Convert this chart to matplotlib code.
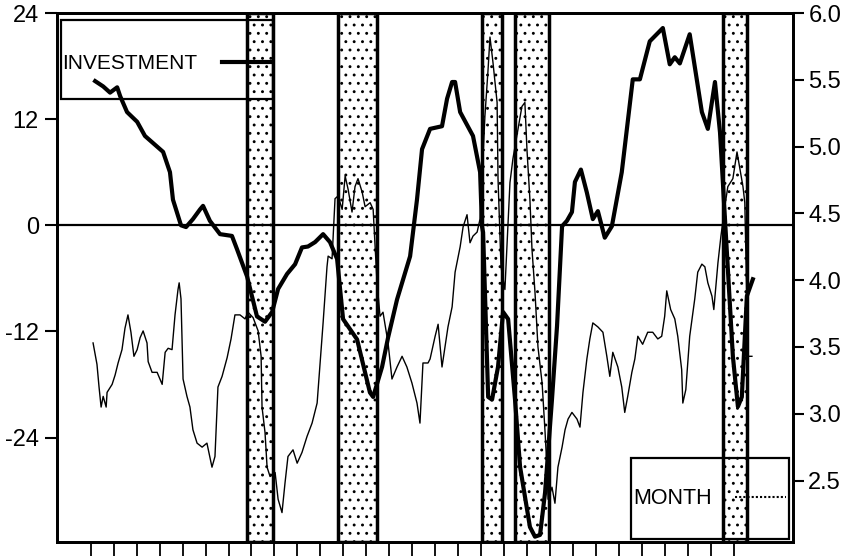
import matplotlib
matplotlib.use("Agg")
import matplotlib.pyplot as plt
from matplotlib.patches import Rectangle

plt.rcParams['font.family'] = ['Liberation Sans', 'DejaVu Sans']
plt.rcParams['hatch.linewidth'] = 0.9

# investment growth (left axis, percent)
inv_year = [1963.19, 1963.54, 1963.84, 1964.15, 1964.28, 1964.58, 1965.02, 1965.36, 1966.15, 1966.45,
            1966.58, 1966.93, 1967.15, 1967.45, 1967.76, 1967.89, 1968.19, 1968.63, 1969.15, 1969.37,
            1969.81, 1970.24, 1970.59, 1970.90, 1971.16, 1971.55, 1971.90, 1972.20, 1972.46, 1972.77,
            1973.12, 1973.42, 1973.73, 1973.99, 1974.60, 1975.16, 1975.30, 1975.69, 1975.95, 1976.34,
            1976.91, 1977.21, 1977.43, 1977.78, 1978.30, 1978.52, 1978.74, 1978.87, 1979.09, 1979.65,
            1979.96, 1980.04, 1980.09, 1980.31, 1980.48, 1980.74, 1980.96, 1981.18, 1981.48, 1981.70,
            1982.13, 1982.35, 1982.57, 1982.79, 1983.09, 1983.31, 1983.53, 1983.74, 1983.96, 1984.09,
            1984.35, 1984.61, 1984.87, 1985.09, 1985.39, 1985.70, 1986.13, 1986.61, 1986.92, 1987.35,
            1987.92, 1988.22, 1988.44, 1988.66, 1989.09, 1989.62, 1989.88, 1990.19, 1990.41, 1990.62,
            1990.97, 1991.19, 1991.36, 1991.58, 1991.84]
investment = [16.3, 15.7, 15.0, 15.6, 14.6, 12.8, 11.7, 10.1, 8.3, 6.0,
              2.9, 0.0, -0.2, 0.7, 1.8, 2.2, 0.5, -1.0, -1.2, -2.7,
              -5.8, -10.3, -10.9, -9.8, -7.2, -5.5, -4.4, -2.5, -2.4, -1.9,
              -1.0, -1.9, -3.8, -10.6, -12.9, -18.9, -19.4, -16.0, -12.7, -8.4,
              -3.5, 2.9, 8.6, 10.9, 11.2, 14.3, 16.2, 16.2, 12.8, 10.1,
              6.0, -0.1, -0.8, -19.4, -19.7, -16.0, -9.8, -10.6, -19.7, -27.3,
              -34.1, -35.2, -35.0, -30.2, -19.7, -11.4, -0.1, 0.5, 1.5, 4.9,
              6.3, 3.7, 0.7, 1.6, -1.4, -0.1, 6.0, 16.5, 16.5, 20.8,
              22.3, 18.2, 19.0, 18.3, 21.6, 12.8, 10.9, 16.2, 10.5, 1.0,
              -14.8, -20.5, -19.4, -8.0, -6.1]

# monthly series (right axis)
mon_year = [1963.10, 1963.27, 1963.36, 1963.45, 1963.54, 1963.67, 1963.71, 1963.93, 1964.06, 1964.19,
            1964.36, 1964.49, 1964.62, 1964.75, 1964.88, 1965.02, 1965.15, 1965.28, 1965.45, 1965.50,
            1965.67, 1965.89, 1966.11, 1966.24, 1966.37, 1966.54, 1966.67, 1966.80, 1966.85, 1966.93,
            1967.02, 1967.19, 1967.32, 1967.45, 1967.63, 1967.85, 1968.06, 1968.28, 1968.41, 1968.54,
            1968.72, 1968.94, 1969.11, 1969.28, 1969.50, 1969.72, 1969.85, 1970.07, 1970.29, 1970.42,
            1970.46, 1970.59, 1970.68, 1970.81, 1971.03, 1971.16, 1971.33, 1971.46, 1971.59, 1971.81,
            1971.99, 1972.20, 1972.42, 1972.64, 1972.86, 1972.99, 1973.12, 1973.29, 1973.34, 1973.51,
            1973.64, 1973.77, 1973.95, 1974.08, 1974.21, 1974.38, 1974.51, 1974.64, 1974.82, 1974.95,
            1975.17, 1975.30, 1975.47, 1975.60, 1975.73, 1975.95, 1976.12, 1976.34, 1976.56, 1976.77,
            1976.99, 1977.21, 1977.34, 1977.47, 1977.69, 1977.78, 1978.00, 1978.13, 1978.30, 1978.43,
            1978.56, 1978.74, 1978.87, 1979.09, 1979.22, 1979.39, 1979.52, 1979.65, 1979.83, 1979.96,
            1980.17, 1980.30, 1980.39, 1980.52, 1980.70, 1980.74, 1980.87, 1981.04, 1981.26, 1981.39,
            1981.78, 1981.91, 1982.00, 1982.13, 1982.22, 1982.35, 1982.48, 1982.66, 1982.79, 1982.87,
            1982.92, 1983.09, 1983.22, 1983.35, 1983.53, 1983.66, 1983.79, 1983.96, 1984.18, 1984.31,
            1984.44, 1984.61, 1984.74, 1984.87, 1985.09, 1985.31, 1985.48, 1985.61, 1985.74, 1985.96,
            1986.13, 1986.26, 1986.39, 1986.57, 1986.70, 1986.83, 1987.04, 1987.26, 1987.48, 1987.70,
            1987.87, 1988.00, 1988.09, 1988.26, 1988.44, 1988.57, 1988.74, 1988.79, 1988.92, 1989.09,
            1989.31, 1989.44, 1989.62, 1989.75, 1989.88, 1990.06, 1990.14, 1990.32, 1990.45, 1990.62,
            1990.75, 1990.97, 1991.15, 1991.28, 1991.41, 1991.49, 1991.63, 1991.80]
month = [3.53, 3.37, 3.20, 3.05, 3.13, 3.05, 3.16, 3.22, 3.29, 3.38,
         3.48, 3.64, 3.74, 3.61, 3.43, 3.48, 3.57, 3.62, 3.53, 3.39,
         3.31, 3.31, 3.22, 3.46, 3.49, 3.48, 3.74, 3.93, 3.98, 3.86,
         3.26, 3.13, 3.05, 2.88, 2.78, 2.75, 2.78, 2.60, 2.68, 3.20,
         3.28, 3.42, 3.56, 3.74, 3.74, 3.71, 3.76, 3.72, 3.62, 3.43,
         3.05, 2.86, 2.60, 2.53, 2.56, 2.36, 2.26, 2.48, 2.68, 2.73,
         2.63, 2.71, 2.83, 2.93, 3.08, 3.38, 3.68, 4.10, 4.18, 4.16,
         4.61, 4.63, 4.53, 4.78, 4.68, 4.51, 4.70, 4.76, 4.66, 4.55,
         4.58, 4.53, 3.98, 3.73, 3.76, 3.53, 3.26, 3.35, 3.43, 3.35,
         3.23, 3.08, 2.93, 3.38, 3.38, 3.41, 3.58, 3.67, 3.35, 3.50,
         3.65, 3.80, 4.06, 4.25, 4.40, 4.49, 4.28, 4.33, 4.36, 4.46,
         5.23, 5.56, 5.82, 5.63, 5.33, 4.76, 4.10, 3.93, 4.73, 4.91,
         5.30, 5.33, 4.98, 4.60, 4.23, 3.91, 3.50, 3.23, 2.86, 2.60,
         2.36, 2.45, 2.33, 2.60, 2.75, 2.88, 2.96, 3.01, 2.96, 2.90,
         3.16, 3.41, 3.56, 3.68, 3.65, 3.61, 3.43, 3.28, 3.46, 3.35,
         3.20, 3.01, 3.13, 3.31, 3.41, 3.58, 3.52, 3.61, 3.61, 3.56,
         3.58, 3.73, 3.92, 3.78, 3.71, 3.58, 3.33, 3.08, 3.18, 3.58,
         3.86, 4.06, 4.12, 4.10, 3.98, 3.88, 3.78, 4.13, 4.33, 4.55,
         4.70, 4.76, 4.96, 4.83, 4.70, 4.58, 3.43, 3.43]

# shaded periods
band_start = [1969.81, 1973.77, 1980.04, 1981.48, 1990.54]
band_end = [1970.94, 1975.47, 1980.91, 1982.96, 1991.58]

years = list(range(1963, 1992))

fig = plt.figure(figsize=(8.55, 5.58), dpi=100)
ax = fig.add_axes([0.0667, 0.0287, 0.8608, 0.948])
ax2 = ax.twinx()

for s, e in zip(band_start, band_end):
    ax.axvspan(s, e, facecolor='white', edgecolor='black', hatch='..', lw=2.5, zorder=1)

ax.axhline(0, color='black', lw=1.6, zorder=2)
ax.plot(inv_year, investment, color='black', lw=3.0, solid_joinstyle='round', zorder=4)
ax2.plot(mon_year, month, color='black', lw=1.0, zorder=3)

ax.set_xlim(1961.53, 1993.59)
ax.set_ylim(-35.8, 24)
ax2.set_ylim(2.04, 6.0)

ax.set_yticks([-24, -12, 0, 12, 24])
ax.set_yticklabels(['-24', '-12', '0', '12', '24'], fontsize=17)
r_ticks = [2.5, 3.0, 3.5, 4.0, 4.5, 5.0, 5.5, 6.0]
ax2.set_yticks(r_ticks)
ax2.set_yticklabels(['%.1f' % t for t in r_ticks], fontsize=17)
ax.set_xticks(years)
ax.set_xticklabels([])

ax.tick_params(axis='y', length=9, width=1.5, pad=4)
ax2.tick_params(axis='y', length=8, width=1.5, pad=3)
ax.tick_params(axis='x', length=10, width=1.3)
for a in (ax, ax2):
    for sp in a.spines.values():
        sp.set_linewidth(2.0)

# legend boxes
ax2.add_patch(Rectangle((0.0054, 0.837), 0.288, 0.150, transform=ax2.transAxes,
                        fill=False, lw=1.6, edgecolor='black', zorder=6))
ax2.text(0.007, 0.905, 'INVESTMENT', transform=ax2.transAxes, fontsize=15,
         va='center', ha='left', zorder=6)
ax2.plot([0.224, 0.289], [0.907, 0.907], transform=ax2.transAxes, color='black', lw=3.0, zorder=6)

ax2.add_patch(Rectangle((0.780, 0.0057), 0.215, 0.153, transform=ax2.transAxes,
                        fill=False, lw=1.6, edgecolor='black', zorder=6))
ax2.text(0.783, 0.082, 'MONTH', transform=ax2.transAxes, fontsize=15.5,
         va='center', ha='left', zorder=6)
ax2.plot([0.921, 0.990], [0.085, 0.085], transform=ax2.transAxes, color='black',
         lw=1.5, ls=(0, (1, 1)), zorder=6)

fig.savefig('out.png', dpi=100)
